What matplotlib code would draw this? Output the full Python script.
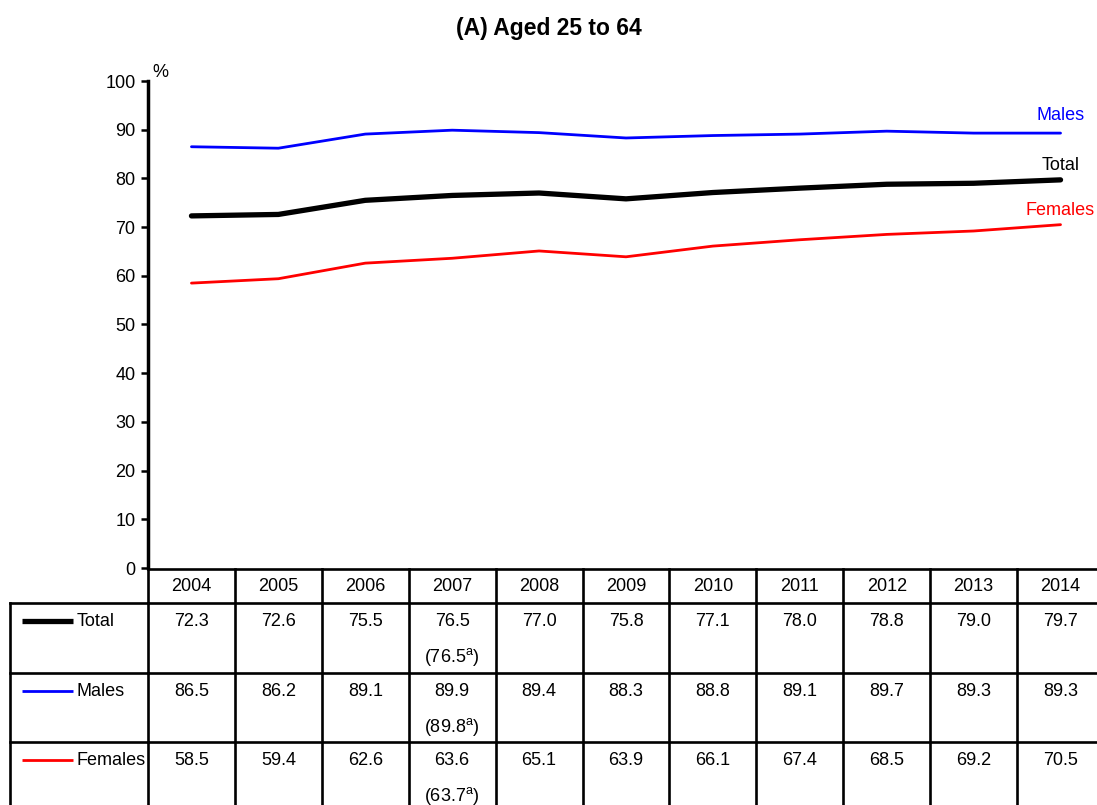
import matplotlib
matplotlib.use('Agg')
import matplotlib.pyplot as plt
from matplotlib.transforms import blended_transform_factory
from matplotlib.lines import Line2D

plt.rcParams['font.family'] = ['Liberation Sans', 'DejaVu Sans']

# ---------------- data ----------------
years = ['2004', '2005', '2006', '2007', '2008', '2009', '2010', '2011', '2012', '2013', '2014']
total = [72.3, 72.6, 75.5, 76.5, 77.0, 75.8, 77.1, 78.0, 78.8, 79.0, 79.7]
males = [86.5, 86.2, 89.1, 89.9, 89.4, 88.3, 88.8, 89.1, 89.7, 89.3, 89.3]
females = [58.5, 59.4, 62.6, 63.6, 65.1, 63.9, 66.1, 67.4, 68.5, 69.2, 70.5]
series_names = ['Total', 'Males', 'Females']
revised_year = '2007'
revised_values = ['76.5', '89.8', '63.7']
yticks = [0, 10, 20, 30, 40, 50, 60, 70, 80, 90, 100]

# ---------------- styles ----------------
colors = ['#000000', '#0000FF', '#FF0000']
widths = [3.8, 2.0, 2.0]
label_offsets = [10, 13, 10.5]
FS = 13

W, H = 1097, 805
fig = plt.figure(figsize=(W / 100, H / 100), dpi=100)

# main plot axes (pixel layout: x 148..1104, y 81..568)
ax = fig.add_axes([148 / W, (H - 568) / H, (1104 - 148) / W, (568 - 81) / H])
data = [total, males, females]
xs = list(range(len(years)))
for vals, c, lw, name, off in zip(data, colors, widths, series_names, label_offsets):
    ax.plot(xs, vals, color=c, lw=lw, solid_capstyle='round', solid_joinstyle='round')
    ax.annotate(name, (xs[-1], vals[-1]), xytext=(0, off), textcoords='offset points',
                ha='center', va='center', color=c, fontsize=FS)

ax.set_xlim(-0.5, len(years) - 0.5)
ax.set_ylim(0, 100)
ax.set_yticks(yticks)
ax.set_xticks([])
for s in ['top', 'right', 'bottom']:
    ax.spines[s].set_visible(False)
ax.spines['left'].set_linewidth(2.5)
ax.tick_params(axis='y', direction='out', length=5, width=1.8, pad=4, labelsize=FS)
ax.text(0.005, 1.0, '%', transform=ax.transAxes, ha='left', va='bottom', fontsize=FS)

fig.suptitle('(A) Aged 25 to 64', fontsize=16.5, fontweight='bold', y=1 - 28 / H, va='center')

# overlay axes in pixel coords for the table
ov = fig.add_axes([0, 0, 1, 1], facecolor='none')
ov.set_xlim(0, W)
ov.set_ylim(H, 0)
ov.axis('off')
tr = blended_transform_factory(ax.transData, ov.transData)

LW = 1.9
row_tops = [569, 603, 673, 742]
bottom = 830
n = len(years)
# horizontal lines
ov.add_line(Line2D([-0.5, n + 0.5], [569, 569], transform=tr, color='k', lw=LW, clip_on=False))
for yt in row_tops[1:]:
    ov.add_line(Line2D([10, 148], [yt, yt], color='k', lw=LW, clip_on=False))
    ov.add_line(Line2D([-0.5, n + 0.5], [yt, yt], transform=tr, color='k', lw=LW, clip_on=False))
# vertical lines
for i in range(n + 1):
    ov.add_line(Line2D([i - 0.5, i - 0.5], [569, bottom], transform=tr, color='k', lw=LW, clip_on=False))
ov.add_line(Line2D([10, 10], [603, bottom], color='k', lw=LW, clip_on=False))

# header
for i, yr in enumerate(years):
    ov.text(i, 586, yr, transform=tr, ha='center', va='center', fontsize=FS)

# rows
for r, (name, vals, c, lw, rev) in enumerate(zip(series_names, data, colors, widths, revised_values)):
    top = row_tops[r + 1]
    yl = top + 18
    ov.add_line(Line2D([22, 73], [yl, yl], color=c, lw=lw, solid_capstyle='butt'))
    ov.text(77, yl, name, ha='left', va='center', fontsize=FS)
    for i, v in enumerate(vals):
        ov.text(i, yl, f'{v:.1f}', transform=tr, ha='center', va='center', fontsize=FS)
    j = years.index(revised_year)
    ov.text(j, top + 54, f'({rev}$^{{\\mathregular{{a}}}}$)', transform=tr,
            ha='center', va='center', fontsize=FS)

fig.savefig('out.png', dpi=100)
